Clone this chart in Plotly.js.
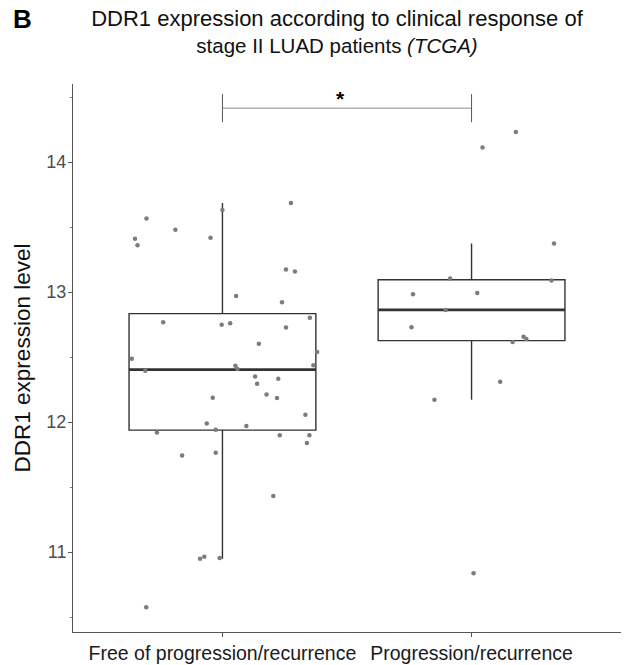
<!DOCTYPE html>
<html>
<head>
<meta charset="utf-8">
<script src="https://cdn.plot.ly/plotly-3.0.1.min.js"></script>
<style>html,body{margin:0;padding:0;background:#fff;}#chart{width:627px;height:665px;}</style>
</head>
<body>
<div id="chart"></div>
<script>
// Categories
const categories = ["Free of progression/recurrence", "Progression/recurrence"];

// Box statistics
const q1 = [11.938, 12.626];
const medians = [12.403, 12.863];
const q3 = [12.834, 13.094];
const lowerFence = [10.948, 12.171];
const upperFence = [13.684, 13.374];

// Individual points (values) and horizontal jitter offsets (category units)
const freeValues = [13.566, 13.41, 13.36, 13.479, 13.417, 13.63, 13.684, 13.173, 13.158, 12.970, 12.921,
  12.767, 12.749, 12.759, 12.803, 12.728, 12.603, 12.487, 12.539, 12.433, 12.408, 12.436, 12.395,
  12.351, 12.295, 12.333, 12.212, 12.184, 12.187, 12.056, 11.989,
  11.94, 11.969, 11.919, 11.899, 11.899, 11.838, 11.742, 11.763, 11.432,
  10.948, 10.964, 10.954, 10.576];
const freeJitter = [-0.305, -0.351, -0.341, -0.189, -0.048, 0.0, 0.275, 0.255, 0.291, 0.055, 0.239,
  -0.238, -0.003, 0.031, 0.351, 0.255, 0.146, -0.364, 0.380, 0.052, 0.060, 0.365, -0.310,
  0.131, 0.139, 0.224, 0.177, 0.219, -0.039, 0.333, -0.063,
  -0.027, 0.096, -0.263, 0.230, 0.349, 0.339, -0.162, -0.027, 0.204,
  -0.090, -0.073, -0.011, -0.306];
const progValues = [14.231, 14.111, 13.374, 13.104, 13.088, 12.983, 12.993, 12.862, 12.729, 12.655, 12.639, 12.616, 12.31, 12.171, 10.836];
const progJitter = [0.178, 0.044, 0.331, -0.086, 0.321, -0.235, 0.023, -0.104, -0.241, 0.209, 0.22, 0.165, 0.115, -0.149, 0.008];

// Significance bracket
const bracketLevel = 14.414;
const bracketTickTop = 14.522;
const bracketTickBottom = 14.306;
const significance = "*";

const positions = categories.map((c, i) => i + 1);
const boxWidth = 0.75;

const traces = [];
traces.push({
  type: 'box',
  x: positions,
  q1: q1, median: medians, q3: q3,
  lowerfence: lowerFence, upperfence: upperFence,
  width: boxWidth,
  whiskerwidth: 0,
  boxpoints: false,
  fillcolor: '#ffffff',
  line: {color: '#333333', width: 1.4},
  hoverinfo: 'skip',
  showlegend: false
});
// thicker median lines
positions.forEach((p, i) => {
  traces.push({
    type: 'scatter', mode: 'lines',
    x: [p - boxWidth / 2, p + boxWidth / 2],
    y: [medians[i], medians[i]],
    line: {color: '#333333', width: 2.6},
    hoverinfo: 'skip', showlegend: false
  });
});
traces.push({
  type: 'scatter', mode: 'markers',
  x: freeJitter.map(j => positions[0] + j),
  y: freeValues,
  marker: {color: '#7c7c7c', size: 4.5},
  hoverinfo: 'skip', showlegend: false
});
traces.push({
  type: 'scatter', mode: 'markers',
  x: progJitter.map(j => positions[1] + j),
  y: progValues,
  marker: {color: '#7c7c7c', size: 4.5},
  hoverinfo: 'skip', showlegend: false
});

const font = "Liberation Sans, Arial, sans-serif";
const layout = {
  width: 627, height: 665,
  margin: {l: 73, r: 6, t: 84, b: 33},
  paper_bgcolor: '#ffffff', plot_bgcolor: '#ffffff',
  font: {family: font, color: '#1a1a1a'},
  title: {
    text: "<span style='font-size:22px'>DDR1 expression according to clinical response of</span><br>stage II LUAD patients <i>(TCGA)</i>",
    font: {family: font, size: 20.5, color: '#111111'},
    xref: 'container', x: 337 / 627, xanchor: 'center',
    yref: 'container', y: 0.974, yanchor: 'top', pad: {t: 9}
  },
  xaxis: {
    type: 'linear', range: [0.4, 2.6],
    tickvals: positions, ticktext: categories,
    showgrid: false, zeroline: false,
    showline: true, linecolor: '#555555', linewidth: 1,
    ticks: 'outside', ticklen: 4, tickcolor: '#555555',
    tickfont: {family: font, size: 19.5, color: '#1a1a1a'}
  },
  yaxis: {
    range: [10.385, 14.6],
    tickvals: [11, 12, 13, 14],
    showgrid: false, zeroline: false,
    showline: true, linecolor: '#555555', linewidth: 1,
    ticks: 'outside', ticklen: 4, tickcolor: '#555555',
    ticklabelstandoff: -2,
    tickfont: {family: font, size: 18, color: '#4d4d4d'},
    minor: {tickvals: [10.5, 11.5, 12.5, 13.5, 14.5], ticks: 'outside', ticklen: 2, tickcolor: '#777777'},
    title: {text: 'DDR1 expression level', font: {family: font, size: 22.5, color: '#111111'}, standoff: 9}
  },
  shapes: [
    {type: 'line', xref: 'x', yref: 'y', x0: positions[0], x1: positions[1], y0: bracketLevel, y1: bracketLevel, line: {color: '#8a8a8a', width: 1}},
    {type: 'line', xref: 'x', yref: 'y', x0: positions[0], x1: positions[0], y0: bracketTickBottom, y1: bracketTickTop, line: {color: '#555555', width: 1}},
    {type: 'line', xref: 'x', yref: 'y', x0: positions[1], x1: positions[1], y0: bracketTickBottom, y1: bracketTickTop, line: {color: '#555555', width: 1}}
  ],
  annotations: [
    {text: '<b>' + significance + '</b>', xref: 'x', yref: 'y', x: 1.473, y: bracketLevel, yanchor: 'bottom', showarrow: false,
     font: {family: font, size: 21, color: '#000000'}, yshift: -4},
    {text: '<b>B</b>', xref: 'paper', yref: 'paper', x: -0.113, y: 1.118, xanchor: 'left', yanchor: 'middle', showarrow: false,
     font: {family: font, size: 26, color: '#000000'}}
  ]
};

Plotly.newPlot('chart', traces, layout, {displayModeBar: false, staticPlot: true});
</script>
</body>
</html>
